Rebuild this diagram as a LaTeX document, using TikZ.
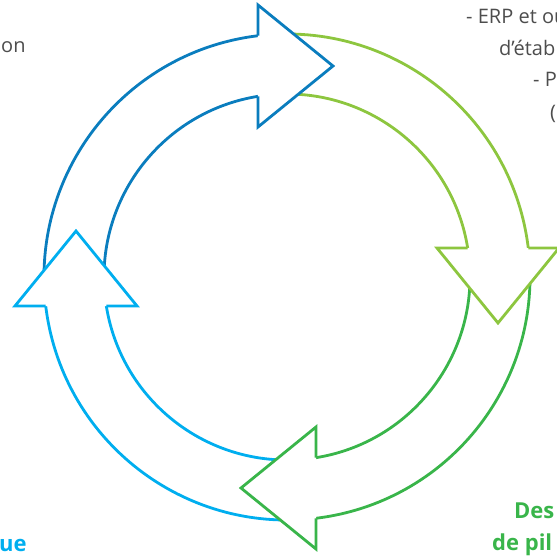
\documentclass[tikz,border=0pt]{standalone}
\usepackage{fontspec}
\setmainfont{Open Sans}
\definecolor{dblue}{HTML}{0A7DBE}
\definecolor{lblue}{HTML}{00AEEF}
\definecolor{dgreen}{HTML}{39B54A}
\definecolor{lgreen}{HTML}{8DC63F}
\definecolor{txtgrey}{HTML}{4D4D4D}
\begin{document}
\begin{tikzpicture}[x=1pt,y=1pt,
  arrline/.style={line width=2.8pt, line join=miter, miter limit=10},
  lbl/.style={anchor=base west, inner sep=0pt, font=\fontsize{20}{30}\selectfont, text=txtgrey},
  blbl/.style={anchor=base west, inner sep=0pt, font=\fontsize{22}{32}\selectfont\bfseries}]
\useasboundingbox (-287,-278) rectangle (270,277);
% shafts
\foreach \r/\c in {0/dblue, 90/lblue, 180/dgreen, 270/lgreen}{
  \begin{scope}[rotate=\r]
    \draw[arrline, draw=\c] (185:243) arc[start angle=185, end angle=96.85, radius=243];
    \draw[arrline, draw=\c] (185:183) arc[start angle=185, end angle=99.12, radius=183];
  \end{scope}
}
% heads
\foreach \r/\c in {0/dblue, 90/lblue, 180/dgreen, 270/lgreen}{
  \begin{scope}[rotate=\r]
    \fill[white] (-29,272) -- (46,211) -- (-29,150) -- cycle;
    \draw[arrline, draw=\c] (-29,241.26) -- (-29,272) -- (46,211) -- (-29,150) -- (-29,180.69);
  \end{scope}
}
% texts
\node[lbl] (t1) at (-286,224) {on};
\node[lbl] (t2) at (179,253) {- ERP et ou};
\node[lbl] (t3) at (212,222) {d'étab};
\node[lbl] (t4) at (246,190) {- P};
\node[lbl] (t5) at (263,158) {(};
\node[blbl, text=dgreen] (t6) at (227,-241) {Des};
\node[blbl, text=dgreen] (t7) at (205,-273) {de pil};
\node[blbl, text=lblue] (t8) at (-288,-274) {ue};
\end{tikzpicture}
\end{document}
